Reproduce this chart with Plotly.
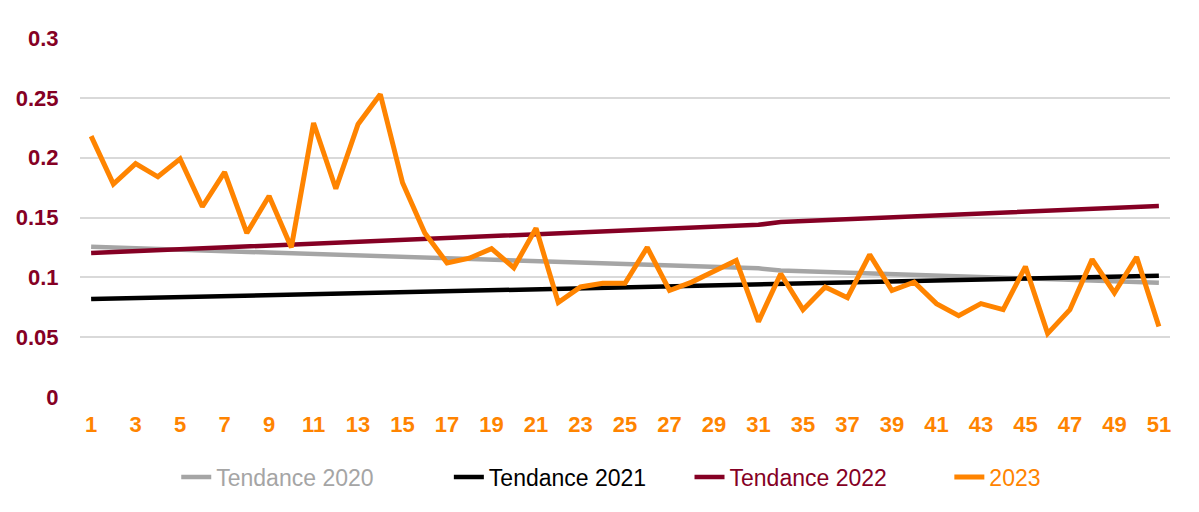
import plotly.graph_objects as go

weeks = [str(w) for w in list(range(1, 32)) + [34] + list(range(35, 52))]

val_2023 = [0.218, 0.178, 0.195, 0.184, 0.199, 0.159, 0.188, 0.137, 0.168, 0.125,
            0.229, 0.174, 0.228, 0.253, 0.179, 0.137, 0.112, 0.116, 0.124, 0.108,
            0.141, 0.079, 0.092, 0.095, 0.095, 0.125, 0.089, 0.096, 0.105, 0.114,
            0.063, 0.103, 0.073, 0.092, 0.083, 0.119, 0.089, 0.096, 0.078, 0.068,
            0.078, 0.073, 0.109, 0.053, 0.073, 0.115, 0.087, 0.117, 0.059]

trend_2020 = [0.1255, 0.1249, 0.1243, 0.1237, 0.1231, 0.1225, 0.1219, 0.1213, 0.1207, 0.1201,
              0.1195, 0.1189, 0.1183, 0.1177, 0.1171, 0.1165, 0.1159, 0.1153, 0.1147, 0.1141,
              0.1135, 0.1129, 0.1123, 0.1117, 0.1111, 0.1105, 0.1099, 0.1093, 0.1087, 0.1081,
              0.1075, 0.1057, 0.1051, 0.1045, 0.1039, 0.1033, 0.1027, 0.1021, 0.1015, 0.1009,
              0.1003, 0.0997, 0.0991, 0.0985, 0.0979, 0.0973, 0.0967, 0.0961, 0.0955]

trend_2021 = [0.0819, 0.0823, 0.0827, 0.0831, 0.0835, 0.0839, 0.0842, 0.0846, 0.0850, 0.0854,
              0.0858, 0.0862, 0.0866, 0.0870, 0.0874, 0.0878, 0.0881, 0.0885, 0.0889, 0.0893,
              0.0897, 0.0901, 0.0905, 0.0909, 0.0913, 0.0917, 0.0920, 0.0924, 0.0928, 0.0932,
              0.0936, 0.0948, 0.0952, 0.0956, 0.0959, 0.0963, 0.0967, 0.0971, 0.0975, 0.0979,
              0.0983, 0.0987, 0.0991, 0.0995, 0.0998, 0.1002, 0.1006, 0.1010, 0.1014]

trend_2022 = [0.1203, 0.1211, 0.1219, 0.1227, 0.1234, 0.1242, 0.1250, 0.1258, 0.1266, 0.1274,
              0.1282, 0.1289, 0.1297, 0.1305, 0.1313, 0.1321, 0.1329, 0.1337, 0.1344, 0.1352,
              0.1360, 0.1368, 0.1376, 0.1384, 0.1392, 0.1400, 0.1407, 0.1415, 0.1423, 0.1431,
              0.1439, 0.1462, 0.1470, 0.1478, 0.1486, 0.1494, 0.1502, 0.1510, 0.1517, 0.1525,
              0.1533, 0.1541, 0.1549, 0.1557, 0.1565, 0.1572, 0.1580, 0.1588, 0.1596]

y_ticks = [0, 0.05, 0.1, 0.15, 0.2, 0.25, 0.3]
y_tick_text = ["0", "0.05", "0.1", "0.15", "0.2", "0.25", "0.3"]
x_tick_vals = weeks[::2]

series = [
    ("Tendance 2020", trend_2020, "#A5A5A5", 4.5, 11),
    ("Tendance 2021", trend_2021, "#000000", 4.5, 6),
    ("Tendance 2022", trend_2022, "#850024", 4.5, 9),
    ("2023", val_2023, "#FF8400", 5, 0),
]

fig = go.Figure()
for name, vals, color, width, pad in series:
    fig.add_trace(go.Scatter(
        x=weeks, y=vals, mode="lines",
        name=f"<span style='color:{color}'>{name}</span>" + "&nbsp;" * pad,
        line=dict(color=color, width=width),
    ))

fig.update_layout(
    width=1199, height=512,
    margin=dict(l=72, r=37, t=30, b=123),
    plot_bgcolor="white", paper_bgcolor="white",
    font=dict(family="Liberation Sans, Arial, sans-serif", size=22),
    legend=dict(orientation="h", x=0.0883, xanchor="left", y=-0.223, yanchor="middle",
                font=dict(size=23), traceorder="normal"),
    xaxis=dict(type="category", tickmode="array", tickvals=x_tick_vals, ticktext=x_tick_vals,
               tickfont=dict(color="#FF8400", size=22, weight=600), showgrid=False,
               zeroline=False, showline=False, ticks="outside", ticklen=8,
               tickcolor="rgba(0,0,0,0)", automargin=False,
               range=[-0.5, len(weeks) - 0.5]),
    yaxis=dict(range=[0, 0.3], tickmode="array", tickvals=y_ticks, ticktext=y_tick_text,
               tickfont=dict(color="#850024", size=22, weight=600), showgrid=True,
               gridcolor="#D9D9D9", gridwidth=1.5, zeroline=False, showline=False,
               ticks="outside", ticklen=16, tickcolor="rgba(0,0,0,0)", automargin=False),
)

fig.write_html("out.html")
